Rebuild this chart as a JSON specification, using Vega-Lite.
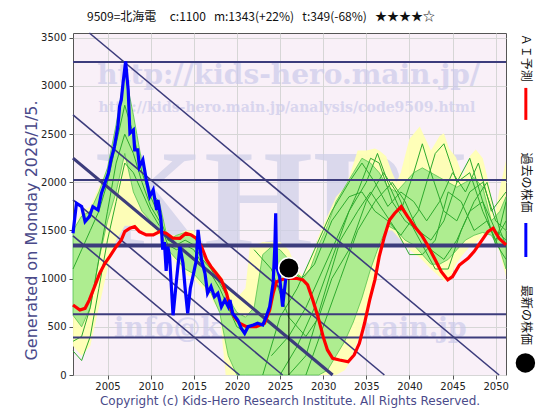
{
  "$schema": "https://vega.github.io/schema/vega-lite/v6.json",
  "width": 433,
  "height": 342,
  "padding": {"left": 23, "top": 10, "right": 5, "bottom": 5},
  "background": "white",
  "config": {
    "view": {"fill": "#f9f0f8", "stroke": "#555555", "strokeWidth": 1},
    "font": "DejaVu Sans"
  },
  "title": {
    "text": "9509=北海電\u00a0\u00a0\u00a0\u00a0\u00a0c:1100\u00a0\u00a0\u00a0m:1343(+22%)\u00a0\u00a0\u00a0t:349(-68%)\u00a0\u00a0\u00a0★★★★☆",
    "anchor": "start",
    "frame": "group",
    "dx": 14,
    "font": "Noto Sans CJK JP",
    "fontSize": 12,
    "fontWeight": "normal",
    "color": "#111111",
    "offset": 6
  },
  "datasets": {
    "yellowBand": [
      {"x": 2001.0, "y": 300, "y2": 1500},
      {"x": 2002.0, "y": 200, "y2": 1700},
      {"x": 2003.0, "y": 300, "y2": 1750},
      {"x": 2004.0, "y": 700, "y2": 1950},
      {"x": 2005.0, "y": 1100, "y2": 2150},
      {"x": 2006.0, "y": 1400, "y2": 2600},
      {"x": 2007.0, "y": 1550, "y2": 3150},
      {"x": 2008.0, "y": 1550, "y2": 2700},
      {"x": 2009.0, "y": 1500, "y2": 2200},
      {"x": 2010.0, "y": 1450, "y2": 1900},
      {"x": 2011.0, "y": 1450, "y2": 1800},
      {"x": 2012.0, "y": 1300, "y2": 1450},
      {"x": 2013.0, "y": 1150, "y2": 1450},
      {"x": 2014.0, "y": 1050, "y2": 1500},
      {"x": 2015.0, "y": 1000, "y2": 1500},
      {"x": 2016.0, "y": 900, "y2": 1300},
      {"x": 2017.0, "y": 800, "y2": 1150},
      {"x": 2018.0, "y": 650, "y2": 1050},
      {"x": 2018.7, "y": 0, "y2": 950},
      {"x": 2020.0, "y": 0, "y2": 800},
      {"x": 2021.0, "y": 0, "y2": 900},
      {"x": 2021.5, "y": 0, "y2": 1330},
      {"x": 2023.0, "y": 0, "y2": 1380},
      {"x": 2025.0, "y": 0, "y2": 1380},
      {"x": 2026.0, "y": 0, "y2": 1300},
      {"x": 2027.0, "y": 0, "y2": 1100},
      {"x": 2027.7, "y": 0, "y2": 1020},
      {"x": 2028.5, "y": 0, "y2": 1200},
      {"x": 2029.5, "y": 0, "y2": 1450},
      {"x": 2030.5, "y": 0, "y2": 1650},
      {"x": 2031.5, "y": 0, "y2": 1850},
      {"x": 2032.5, "y": 50, "y2": 1950},
      {"x": 2033.0, "y": 120, "y2": 2050},
      {"x": 2034.0, "y": 350, "y2": 2330},
      {"x": 2035.0, "y": 650, "y2": 2330},
      {"x": 2036.0, "y": 1000, "y2": 2350},
      {"x": 2036.5, "y": 1300, "y2": 2330},
      {"x": 2037.3, "y": 1500, "y2": 2270},
      {"x": 2038.0, "y": 1500, "y2": 2100},
      {"x": 2038.5, "y": 1450, "y2": 2000},
      {"x": 2039.0, "y": 1400, "y2": 2100},
      {"x": 2040.0, "y": 1300, "y2": 2450},
      {"x": 2041.2, "y": 1220, "y2": 2580},
      {"x": 2042.5, "y": 1100, "y2": 2330},
      {"x": 2043.5, "y": 1020, "y2": 2480},
      {"x": 2044.0, "y": 980, "y2": 2510},
      {"x": 2044.6, "y": 980, "y2": 2350},
      {"x": 2045.4, "y": 1150, "y2": 2260},
      {"x": 2046.2, "y": 1250, "y2": 2060},
      {"x": 2047.0, "y": 1330, "y2": 2270},
      {"x": 2047.7, "y": 1370, "y2": 2340},
      {"x": 2048.5, "y": 1450, "y2": 2250},
      {"x": 2049.3, "y": 1500, "y2": 1960},
      {"x": 2049.8, "y": 1450, "y2": 1610},
      {"x": 2050.4, "y": 1300, "y2": 1900},
      {"x": 2051.2, "y": 1020, "y2": 2230}
    ],
    "greenBand": [
      {"x": 2001.0, "y": 620, "y2": 1500},
      {"x": 2002.0, "y": 500, "y2": 1650},
      {"x": 2003.0, "y": 700, "y2": 1700},
      {"x": 2004.0, "y": 1200, "y2": 1900},
      {"x": 2005.0, "y": 1600, "y2": 2150},
      {"x": 2006.0, "y": 1900, "y2": 2600},
      {"x": 2007.0, "y": 2300, "y2": 3150},
      {"x": 2008.0, "y": 1900, "y2": 2700},
      {"x": 2009.0, "y": 1700, "y2": 2200},
      {"x": 2010.0, "y": 1600, "y2": 1900},
      {"x": 2011.0, "y": 1500, "y2": 1800},
      {"x": 2012.0, "y": 1300, "y2": 1400},
      {"x": 2013.0, "y": 1200, "y2": 1450},
      {"x": 2014.0, "y": 1100, "y2": 1480},
      {"x": 2015.0, "y": 1050, "y2": 1450},
      {"x": 2016.0, "y": 950, "y2": 1250},
      {"x": 2017.0, "y": 850, "y2": 1100},
      {"x": 2018.0, "y": 650, "y2": 1000},
      {"x": 2019.0, "y": 200, "y2": 800},
      {"x": 2020.0, "y": 0, "y2": 650},
      {"x": 2021.0, "y": 0, "y2": 600},
      {"x": 2022.0, "y": 0, "y2": 700},
      {"x": 2023.0, "y": 0, "y2": 1250},
      {"x": 2024.0, "y": 0, "y2": 1330},
      {"x": 2025.0, "y": 0, "y2": 1300},
      {"x": 2026.0, "y": 0, "y2": 1200},
      {"x": 2027.0, "y": 0, "y2": 1050},
      {"x": 2027.7, "y": 0, "y2": 1000},
      {"x": 2028.5, "y": 0, "y2": 1100},
      {"x": 2029.5, "y": 0, "y2": 1350},
      {"x": 2030.5, "y": 50, "y2": 1550},
      {"x": 2031.5, "y": 200, "y2": 1800},
      {"x": 2032.5, "y": 350, "y2": 1950},
      {"x": 2033.5, "y": 550, "y2": 2100},
      {"x": 2034.5, "y": 800, "y2": 2250},
      {"x": 2035.5, "y": 1100, "y2": 2200},
      {"x": 2036.5, "y": 1350, "y2": 2100},
      {"x": 2037.5, "y": 1550, "y2": 1950},
      {"x": 2038.5, "y": 1500, "y2": 1900},
      {"x": 2039.5, "y": 1400, "y2": 2000},
      {"x": 2040.5, "y": 1350, "y2": 2100},
      {"x": 2041.5, "y": 1250, "y2": 2150},
      {"x": 2042.5, "y": 1150, "y2": 2100},
      {"x": 2043.5, "y": 1150, "y2": 2050},
      {"x": 2044.5, "y": 1200, "y2": 2000},
      {"x": 2045.5, "y": 1300, "y2": 1950},
      {"x": 2046.5, "y": 1400, "y2": 2000},
      {"x": 2047.5, "y": 1450, "y2": 2050},
      {"x": 2048.5, "y": 1480, "y2": 1950},
      {"x": 2049.5, "y": 1450, "y2": 1600},
      {"x": 2050.5, "y": 1300, "y2": 1700},
      {"x": 2051.2, "y": 1100, "y2": 1850}
    ],
    "greenLines": [
      {"s": "P1", "x": 2001, "y": 350}, {"s": "P1", "x": 2002, "y": 400}, {"s": "P1", "x": 2003, "y": 700}, {"s": "P1", "x": 2004, "y": 1200}, {"s": "P1", "x": 2005, "y": 1700}, {"s": "P1", "x": 2006, "y": 2200}, {"s": "P1", "x": 2007, "y": 2500}, {"s": "P1", "x": 2008, "y": 2300}, {"s": "P1", "x": 2009, "y": 2000}, {"s": "P1", "x": 2010, "y": 1750}, {"s": "P1", "x": 2011, "y": 1600}, {"s": "P1", "x": 2012, "y": 1350}, {"s": "P1", "x": 2013, "y": 1300}, {"s": "P1", "x": 2014, "y": 1350}, {"s": "P1", "x": 2015, "y": 1300}, {"s": "P1", "x": 2016, "y": 1150}, {"s": "P1", "x": 2017, "y": 1050}, {"s": "P1", "x": 2018, "y": 900}, {"s": "P1", "x": 2019, "y": 700}, {"s": "P1", "x": 2020, "y": 500}, {"s": "P1", "x": 2021, "y": 450},
      {"s": "P2", "x": 2001, "y": 1100}, {"s": "P2", "x": 2002, "y": 1300}, {"s": "P2", "x": 2003, "y": 1500}, {"s": "P2", "x": 2004, "y": 1700}, {"s": "P2", "x": 2005, "y": 2000}, {"s": "P2", "x": 2006, "y": 2400}, {"s": "P2", "x": 2007, "y": 2800}, {"s": "P2", "x": 2008, "y": 2500}, {"s": "P2", "x": 2009, "y": 2100}, {"s": "P2", "x": 2010, "y": 1850}, {"s": "P2", "x": 2011, "y": 1650}, {"s": "P2", "x": 2012, "y": 1400}, {"s": "P2", "x": 2013, "y": 1350}, {"s": "P2", "x": 2014, "y": 1400}, {"s": "P2", "x": 2015, "y": 1350}, {"s": "P2", "x": 2016, "y": 1200}, {"s": "P2", "x": 2017, "y": 1100}, {"s": "P2", "x": 2018, "y": 950}, {"s": "P2", "x": 2019, "y": 800}, {"s": "P2", "x": 2020, "y": 550},
      {"s": "P3", "x": 2001, "y": 250}, {"s": "P3", "x": 2002, "y": 150}, {"s": "P3", "x": 2003, "y": 400}, {"s": "P3", "x": 2004, "y": 900}, {"s": "P3", "x": 2005, "y": 1400}, {"s": "P3", "x": 2006, "y": 1800}, {"s": "P3", "x": 2007, "y": 2200}, {"s": "P3", "x": 2008, "y": 2100}, {"s": "P3", "x": 2009, "y": 1900}, {"s": "P3", "x": 2010, "y": 1700}, {"s": "P3", "x": 2011, "y": 1550},
      {"s": "A", "x": 2024, "y": 200}, {"s": "A", "x": 2026, "y": 400}, {"s": "A", "x": 2028, "y": 700}, {"s": "A", "x": 2030, "y": 1100}, {"s": "A", "x": 2032, "y": 1500}, {"s": "A", "x": 2034, "y": 1900}, {"s": "A", "x": 2035.5, "y": 2250}, {"s": "A", "x": 2036.5, "y": 2200}, {"s": "A", "x": 2038, "y": 1800}, {"s": "A", "x": 2039.5, "y": 1600}, {"s": "A", "x": 2041, "y": 1500}, {"s": "A", "x": 2042.5, "y": 1300}, {"s": "A", "x": 2044, "y": 1200}, {"s": "A", "x": 2045.5, "y": 1400}, {"s": "A", "x": 2047, "y": 1700}, {"s": "A", "x": 2048.5, "y": 1800}, {"s": "A", "x": 2050, "y": 1500}, {"s": "A", "x": 2051.2, "y": 1400},
      {"s": "B", "x": 2025, "y": 0}, {"s": "B", "x": 2027, "y": 300}, {"s": "B", "x": 2029, "y": 700}, {"s": "B", "x": 2031, "y": 1200}, {"s": "B", "x": 2033, "y": 1700}, {"s": "B", "x": 2035, "y": 2000}, {"s": "B", "x": 2036.3, "y": 2300}, {"s": "B", "x": 2037.5, "y": 2000}, {"s": "B", "x": 2039, "y": 1700}, {"s": "B", "x": 2040.5, "y": 2100}, {"s": "B", "x": 2041.5, "y": 2400}, {"s": "B", "x": 2042.5, "y": 2100}, {"s": "B", "x": 2044, "y": 1700}, {"s": "B", "x": 2045.5, "y": 1600}, {"s": "B", "x": 2047, "y": 1900}, {"s": "B", "x": 2048.5, "y": 2000}, {"s": "B", "x": 2050, "y": 1600}, {"s": "B", "x": 2051.2, "y": 1500},
      {"s": "C", "x": 2026, "y": 1100}, {"s": "C", "x": 2027.5, "y": 1000}, {"s": "C", "x": 2029, "y": 1150}, {"s": "C", "x": 2031, "y": 1600}, {"s": "C", "x": 2033, "y": 1850}, {"s": "C", "x": 2034.5, "y": 1900}, {"s": "C", "x": 2036, "y": 1700}, {"s": "C", "x": 2037.5, "y": 1600}, {"s": "C", "x": 2039, "y": 1450}, {"s": "C", "x": 2041, "y": 1700}, {"s": "C", "x": 2043, "y": 2300}, {"s": "C", "x": 2044, "y": 2400}, {"s": "C", "x": 2045.5, "y": 2000}, {"s": "C", "x": 2047, "y": 2100}, {"s": "C", "x": 2048.5, "y": 1700}, {"s": "C", "x": 2050, "y": 1400}, {"s": "C", "x": 2051.2, "y": 1600},
      {"s": "D", "x": 2028, "y": 0}, {"s": "D", "x": 2030, "y": 500}, {"s": "D", "x": 2032, "y": 1000}, {"s": "D", "x": 2034, "y": 1500}, {"s": "D", "x": 2036, "y": 1800}, {"s": "D", "x": 2038, "y": 2000}, {"s": "D", "x": 2039.5, "y": 1800}, {"s": "D", "x": 2041, "y": 1500}, {"s": "D", "x": 2042.5, "y": 1400}, {"s": "D", "x": 2044, "y": 1600}, {"s": "D", "x": 2045.5, "y": 2000}, {"s": "D", "x": 2047, "y": 2250}, {"s": "D", "x": 2048.5, "y": 1800}, {"s": "D", "x": 2050, "y": 1350}, {"s": "D", "x": 2051.2, "y": 1800},
      {"s": "E", "x": 2026, "y": 0}, {"s": "E", "x": 2028, "y": 200}, {"s": "E", "x": 2030, "y": 800}, {"s": "E", "x": 2032, "y": 1400}, {"s": "E", "x": 2034, "y": 1700}, {"s": "E", "x": 2035.5, "y": 1900}, {"s": "E", "x": 2037, "y": 1700}, {"s": "E", "x": 2038.5, "y": 1500}, {"s": "E", "x": 2040, "y": 1250}, {"s": "E", "x": 2041.5, "y": 1250}, {"s": "E", "x": 2043, "y": 1400}, {"s": "E", "x": 2044.5, "y": 1900}, {"s": "E", "x": 2046, "y": 1800}, {"s": "E", "x": 2047.5, "y": 1500}, {"s": "E", "x": 2049, "y": 1600}, {"s": "E", "x": 2050.5, "y": 1300}, {"s": "E", "x": 2051.2, "y": 1200},
      {"s": "F", "x": 2022, "y": 1300}, {"s": "F", "x": 2024, "y": 1100}, {"s": "F", "x": 2026, "y": 600}, {"s": "F", "x": 2028, "y": 400}, {"s": "F", "x": 2029.5, "y": 600}, {"s": "F", "x": 2031, "y": 1000}, {"s": "F", "x": 2033, "y": 1300}, {"s": "F", "x": 2035, "y": 1800}, {"s": "F", "x": 2037, "y": 2100}, {"s": "F", "x": 2038.5, "y": 1900}, {"s": "F", "x": 2040, "y": 1600}, {"s": "F", "x": 2041.5, "y": 1350}, {"s": "F", "x": 2043, "y": 1100}, {"s": "F", "x": 2044.5, "y": 1100}, {"s": "F", "x": 2046, "y": 1500}, {"s": "F", "x": 2047.5, "y": 1800}, {"s": "F", "x": 2049, "y": 2000}, {"s": "F", "x": 2050.5, "y": 1500}, {"s": "F", "x": 2051.2, "y": 1350},
      {"s": "G", "x": 2023, "y": 0}, {"s": "G", "x": 2025, "y": 600}, {"s": "G", "x": 2027, "y": 900}, {"s": "G", "x": 2029, "y": 1300}, {"s": "G", "x": 2031, "y": 1700}, {"s": "G", "x": 2033, "y": 2000}, {"s": "G", "x": 2034.5, "y": 2200}, {"s": "G", "x": 2036, "y": 2000}, {"s": "G", "x": 2037.5, "y": 1750}, {"s": "G", "x": 2039, "y": 1900}, {"s": "G", "x": 2040.5, "y": 1800}, {"s": "G", "x": 2042, "y": 1600}, {"s": "G", "x": 2043.5, "y": 1800}, {"s": "G", "x": 2045, "y": 2100}, {"s": "G", "x": 2046.5, "y": 1900}, {"s": "G", "x": 2048, "y": 2200}, {"s": "G", "x": 2049.5, "y": 1700}, {"s": "G", "x": 2051.2, "y": 1900}
    ],
    "hLines": [
      {"x": 2001, "x2": 2051.2, "y": 3250},
      {"x": 2001, "x2": 2051.2, "y": 2025},
      {"x": 2001, "x2": 2051.2, "y": 630},
      {"x": 2001, "x2": 2051.2, "y": 390}
    ],
    "hThick": [
      {"x": 2001, "x2": 2051.2, "y": 1343}
    ],
    "diagThin": [
      {"s": "d1", "x": 2001, "y": 1444}, {"s": "d1", "x": 2020.3, "y": 0},
      {"s": "d2", "x": 2001, "y": 1818}, {"s": "d2", "x": 2025.3, "y": 0},
      {"s": "d4", "x": 2001, "y": 2700}, {"s": "d4", "x": 2037.1, "y": 0},
      {"s": "d5", "x": 2002.9, "y": 3550}, {"s": "d5", "x": 2050.4, "y": 0}
    ],
    "diagThick": [
      {"s": "d3", "x": 2001, "y": 2251}, {"s": "d3", "x": 2031.1, "y": 0}
    ],
    "red": [
      {"x": 2001.0, "y": 727}, {"x": 2001.8, "y": 675}, {"x": 2002.4, "y": 692}, {"x": 2002.9, "y": 779}, {"x": 2003.5, "y": 917}, {"x": 2004.1, "y": 1056}, {"x": 2004.7, "y": 1160}, {"x": 2005.25, "y": 1229}, {"x": 2006.0, "y": 1332}, {"x": 2006.6, "y": 1402}, {"x": 2007.0, "y": 1488}, {"x": 2007.6, "y": 1523}, {"x": 2008.15, "y": 1540}, {"x": 2008.7, "y": 1488}, {"x": 2009.5, "y": 1454}, {"x": 2010.3, "y": 1454}, {"x": 2011.05, "y": 1488}, {"x": 2011.8, "y": 1471}, {"x": 2012.6, "y": 1420}, {"x": 2013.4, "y": 1419}, {"x": 2014.1, "y": 1471}, {"x": 2014.7, "y": 1454}, {"x": 2015.3, "y": 1419}, {"x": 2015.9, "y": 1332}, {"x": 2016.5, "y": 1194}, {"x": 2017.0, "y": 1125}, {"x": 2017.6, "y": 1056}, {"x": 2018.2, "y": 987}, {"x": 2018.8, "y": 848}, {"x": 2019.2, "y": 709}, {"x": 2019.7, "y": 605}, {"x": 2020.3, "y": 537}, {"x": 2021.1, "y": 502}, {"x": 2022.25, "y": 502}, {"x": 2023.2, "y": 537}, {"x": 2023.8, "y": 675}, {"x": 2024.2, "y": 848}, {"x": 2024.6, "y": 969}, {"x": 2025.1, "y": 987}, {"x": 2025.7, "y": 1004}, {"x": 2026.9, "y": 1004}, {"x": 2027.65, "y": 987}, {"x": 2028.2, "y": 935}, {"x": 2028.8, "y": 779}, {"x": 2029.4, "y": 605}, {"x": 2030.0, "y": 398}, {"x": 2030.5, "y": 260}, {"x": 2031.1, "y": 173}, {"x": 2031.9, "y": 156}, {"x": 2032.9, "y": 138}, {"x": 2033.6, "y": 208}, {"x": 2034.2, "y": 329}, {"x": 2034.8, "y": 537}, {"x": 2035.4, "y": 779}, {"x": 2036.0, "y": 987}, {"x": 2036.5, "y": 1229}, {"x": 2037.1, "y": 1436}, {"x": 2037.7, "y": 1610}, {"x": 2038.3, "y": 1679}, {"x": 2039.05, "y": 1748}, {"x": 2039.8, "y": 1644}, {"x": 2040.6, "y": 1540}, {"x": 2041.4, "y": 1454}, {"x": 2042.1, "y": 1350}, {"x": 2042.9, "y": 1212}, {"x": 2043.7, "y": 1073}, {"x": 2044.45, "y": 987}, {"x": 2045.0, "y": 1021}, {"x": 2045.8, "y": 1142}, {"x": 2046.8, "y": 1212}, {"x": 2047.5, "y": 1281}, {"x": 2048.3, "y": 1384}, {"x": 2049.1, "y": 1488}, {"x": 2049.7, "y": 1523}, {"x": 2050.4, "y": 1419}, {"x": 2051.2, "y": 1350}
    ],
    "blue": [
      {"x": 2001.0, "y": 1471}, {"x": 2001.4, "y": 1783}, {"x": 2002.0, "y": 1748}, {"x": 2002.4, "y": 1592}, {"x": 2002.9, "y": 1644}, {"x": 2003.3, "y": 1748}, {"x": 2003.9, "y": 1713}, {"x": 2004.3, "y": 1887}, {"x": 2004.7, "y": 1991}, {"x": 2005.1, "y": 2095}, {"x": 2005.4, "y": 2233}, {"x": 2005.8, "y": 2371}, {"x": 2006.2, "y": 2579}, {"x": 2006.4, "y": 2786}, {"x": 2006.6, "y": 2856}, {"x": 2006.8, "y": 3029}, {"x": 2007.1, "y": 3254}, {"x": 2007.4, "y": 2960}, {"x": 2007.6, "y": 2510}, {"x": 2008.0, "y": 2544}, {"x": 2008.15, "y": 2337}, {"x": 2008.5, "y": 2337}, {"x": 2008.7, "y": 2163}, {"x": 2009.1, "y": 2233}, {"x": 2009.5, "y": 2025}, {"x": 2009.9, "y": 1852}, {"x": 2010.3, "y": 1921}, {"x": 2010.7, "y": 1713}, {"x": 2010.85, "y": 1817}, {"x": 2011.05, "y": 1700}, {"x": 2011.2, "y": 1610}, {"x": 2011.4, "y": 1300}, {"x": 2011.6, "y": 1380}, {"x": 2011.8, "y": 1080}, {"x": 2012.0, "y": 1332}, {"x": 2012.2, "y": 1229}, {"x": 2012.6, "y": 620}, {"x": 2013.0, "y": 987}, {"x": 2013.4, "y": 1332}, {"x": 2013.75, "y": 1160}, {"x": 2014.0, "y": 900}, {"x": 2014.3, "y": 641}, {"x": 2014.6, "y": 900}, {"x": 2014.9, "y": 1021}, {"x": 2015.3, "y": 1194}, {"x": 2015.5, "y": 1506}, {"x": 2015.9, "y": 1194}, {"x": 2016.3, "y": 1056}, {"x": 2016.6, "y": 848}, {"x": 2017.0, "y": 917}, {"x": 2017.4, "y": 813}, {"x": 2017.8, "y": 848}, {"x": 2018.2, "y": 709}, {"x": 2018.6, "y": 779}, {"x": 2019.0, "y": 709}, {"x": 2019.2, "y": 779}, {"x": 2019.5, "y": 641}, {"x": 2020.1, "y": 571}, {"x": 2020.5, "y": 485}, {"x": 2020.9, "y": 433}, {"x": 2021.3, "y": 502}, {"x": 2021.9, "y": 519}, {"x": 2022.4, "y": 537}, {"x": 2023.0, "y": 519}, {"x": 2023.4, "y": 605}, {"x": 2023.8, "y": 709}, {"x": 2024.2, "y": 952}, {"x": 2024.4, "y": 1332}, {"x": 2024.5, "y": 1679}, {"x": 2024.6, "y": 1125}, {"x": 2024.95, "y": 1021}, {"x": 2025.3, "y": 709}, {"x": 2025.65, "y": 987}, {"x": 2025.9, "y": 1090}
    ],
    "latest": [{"x": 2026.03, "y": 1110, "y0": 0}]
  },
  "encoding": {
    "x": {
      "field": "x", "type": "quantitative",
      "scale": {"domain": [2001, 2051.2], "nice": false, "zero": false},
      "axis": {
        "values": [2005, 2010, 2015, 2020, 2025, 2030, 2035, 2040, 2045, 2050],
        "format": "d",
        "title": "Copyright (c) Kids-Hero Research Institute. All Rights Reserved.",
        "titleFont": "DejaVu Sans", "titleFontSize": 12, "titleFontWeight": "normal", "titleColor": "#4a4a8a", "titlePadding": 4,
        "labelFont": "DejaVu Sans", "labelFontSize": 10, "labelColor": "#222222",
        "grid": true, "gridColor": "#d6d6d6", "gridWidth": 1,
        "tickColor": "#555555", "tickSize": 4, "domain": false
      }
    },
    "y": {
      "field": "y", "type": "quantitative",
      "scale": {"domain": [0, 3550], "nice": false, "zero": true},
      "axis": {
        "values": [0, 500, 1000, 1500, 2000, 2500, 3000, 3500],
        "format": "d",
        "title": "Generated on Monday 2026/1/5.",
        "titleFont": "DejaVu Sans", "titleFontSize": 16, "titleFontWeight": "normal", "titleColor": "#4a4a8a",
        "titleAngle": -90, "titleAlign": "center", "titleBaseline": "middle", "titleX": -42, "titleY": 197,
        "labelFont": "DejaVu Sans", "labelFontSize": 10, "labelColor": "#222222", "labelPadding": 3,
        "grid": true, "gridColor": "#d6d6d6", "gridWidth": 1,
        "tickColor": "#555555", "tickSize": 4, "domain": false
      }
    }
  },
  "layer": [
    {"data": {"values": [{"x": 2026, "y": 3100, "t": "http://kids-hero.main.jp/"}]},
     "mark": {"type": "text", "font": "DejaVu Serif", "fontSize": 28, "fontWeight": "bold", "color": "#c8c8ea", "opacity": 0.65},
     "encoding": {"text": {"field": "t"}}},
    {"data": {"values": [{"x": 2025.8, "y": 2770, "t": "http://kids-hero.main.jp/analysis/code9509.html"}]},
     "mark": {"type": "text", "font": "DejaVu Serif", "fontSize": 14, "fontWeight": "bold", "color": "#c8c8ea", "opacity": 0.65},
     "encoding": {"text": {"field": "t"}}},
    {"data": {"values": [{"x": 2025.2, "y": 1780, "t": "KHRI"}]},
     "mark": {"type": "text", "font": "Liberation Serif", "fontSize": 140, "fontWeight": "bold", "color": "#d0d0e8", "opacity": 0.75},
     "encoding": {"text": {"field": "t"}}},
    {"data": {"values": [{"x": 2026.2, "y": 480, "t": "info@kids-hero.main.jp"}]},
     "mark": {"type": "text", "font": "DejaVu Serif", "fontSize": 27, "fontWeight": "bold", "color": "#c8c8ea", "opacity": 0.65},
     "encoding": {"text": {"field": "t"}}},
    {"data": {"name": "yellowBand"},
     "mark": {"type": "area", "color": "#ffffb4", "opacity": 0.95},
     "encoding": {"y2": {"field": "y2"}}},
    {"data": {"name": "greenBand"},
     "mark": {"type": "area", "color": "#a6ec8c", "opacity": 0.9, "stroke": "#44bb44", "strokeWidth": 0.8},
     "encoding": {"y2": {"field": "y2"}}},
    {"data": {"name": "greenLines"},
     "mark": {"type": "line", "color": "#2eaa2e", "strokeWidth": 1},
     "encoding": {"detail": {"field": "s"}}},
    {"data": {"name": "hLines"},
     "mark": {"type": "rule", "color": "#3c3c7c", "strokeWidth": 2},
     "encoding": {"x2": {"field": "x2"}}},
    {"data": {"name": "hThick"},
     "mark": {"type": "rule", "color": "#3c3c7c", "strokeWidth": 4},
     "encoding": {"x2": {"field": "x2"}}},
    {"data": {"name": "diagThin"},
     "mark": {"type": "line", "color": "#3c3c7c", "strokeWidth": 1.6},
     "encoding": {"detail": {"field": "s"}}},
    {"data": {"name": "diagThick"},
     "mark": {"type": "line", "color": "#3c3c7c", "strokeWidth": 3.2},
     "encoding": {"detail": {"field": "s"}}},
    {"data": {"name": "red"},
     "mark": {"type": "line", "color": "#ff0000", "strokeWidth": 3.2},
     "encoding": {}},
    {"data": {"name": "blue"},
     "mark": {"type": "line", "color": "#0000ff", "strokeWidth": 3.2},
     "encoding": {}},
    {"data": {"name": "latest"},
     "mark": {"type": "rule", "color": "#000000", "strokeWidth": 1},
     "encoding": {"y2": {"field": "y0"}}},
    {"data": {"name": "latest"},
     "mark": {"type": "point", "shape": "circle", "filled": true, "color": "#000000", "size": 420, "opacity": 1, "stroke": "#ffffff", "strokeWidth": 1.5},
     "encoding": {}},
    {"data": {"values": [
      {"x": 2053.55, "y": 3292, "t": "ＡＩ予測"},
      {"x": 2053.55, "y": 1999, "t": "過去の株価"},
      {"x": 2053.55, "y": 623, "t": "最新の株価"}
     ]},
     "mark": {"type": "text", "angle": 90, "align": "center", "baseline": "middle", "font": "Noto Sans CJK JP", "fontSize": 12, "color": "#111111"},
     "encoding": {"text": {"field": "t"}}},
    {"data": {"values": [{"x": 2053.5, "y": 2648, "y2": 2980}]},
     "mark": {"type": "rule", "color": "#ff0000", "strokeWidth": 3},
     "encoding": {"y2": {"field": "y2"}}},
    {"data": {"values": [{"x": 2053.5, "y": 1225, "y2": 1578}]},
     "mark": {"type": "rule", "color": "#0000ff", "strokeWidth": 3},
     "encoding": {"y2": {"field": "y2"}}},
    {"data": {"values": [{"x": 2053.45, "y": 125}]},
     "mark": {"type": "point", "shape": "circle", "filled": true, "color": "#000000", "size": 380, "opacity": 1},
     "encoding": {}}
  ]
}
